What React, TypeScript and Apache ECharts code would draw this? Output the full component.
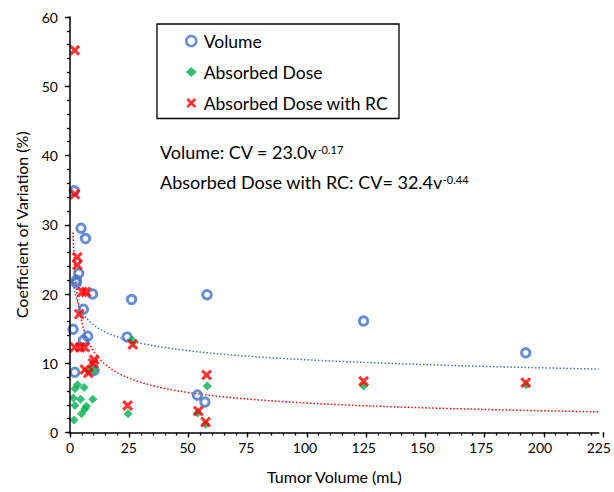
import React, { useEffect, useRef } from 'react';
import * as echarts from 'echarts';

// Tumor volume (mL) vs coefficient of variation (%)
const volumeData: [number, number][] = [
  [1.8, 34.9], [4.7, 29.5], [6.6, 28.0], [3.7, 23.0], [2.7, 22.0], [2.7, 21.6],
  [9.6, 20.0], [26.2, 19.2], [58.3, 19.9], [5.7, 17.8], [1.3, 14.9], [7.5, 13.9],
  [5.7, 13.3], [24.3, 13.8], [124.9, 16.1], [193.9, 11.5], [2.0, 8.7], [10.3, 9.0],
  [54.2, 5.4], [57.4, 4.4],
];

const doseData: [number, number][] = [
  [3.2, 6.9], [2.1, 6.3], [6.0, 6.5], [1.4, 5.0], [4.5, 4.8], [9.7, 4.8],
  [2.1, 3.9], [7.0, 3.8], [6.3, 3.4], [4.9, 2.7], [1.7, 1.8], [10.3, 9.0],
  [8.5, 9.0], [26.3, 13.4], [24.7, 2.7], [54.3, 2.8], [57.7, 1.2], [58.4, 6.7],
  [124.9, 6.7], [194.1, 6.9],
];

const doseRcData: [number, number][] = [
  [2.0, 55.2], [2.1, 34.4], [3.1, 25.3], [3.1, 24.2], [5.2, 20.3], [6.8, 20.3],
  [3.9, 17.1], [2.0, 12.3], [4.3, 12.3], [6.3, 12.3], [10.3, 10.5], [9.8, 10.0],
  [6.3, 9.1], [7.8, 8.6], [24.5, 3.9], [26.7, 12.7], [58.1, 8.3], [54.6, 3.1],
  [57.7, 1.5], [124.9, 7.4], [193.9, 7.2],
];

// Power-law fits shown on the chart: CV = a * v^b
const volumeFit = [23.0, -0.17];
const doseRcFit = [32.4, -0.44];
const fitRange = [1.3, 225];

const seriesNames = ['Volume', 'Absorbed Dose', 'Absorbed Dose with RC'];
// [min, max, major interval, minor interval]
const xTickValues = [0, 225, 25, 5];
const yTickValues = [0, 60, 10, 2];

const BLUE = '#4472C4';
const GREEN = '#00B050';
const RED = '#FF0000';
const FONT = 'Lato, "Open Sans", sans-serif';
const X_PATH =
  'path://M0,2L2,0L5,3L8,0L10,2L7,5L10,8L8,10L5,7L2,10L0,8L3,5Z';

function fitCurve(fit: number[]): [number, number][] {
  const pts: [number, number][] = [];
  const n = 200;
  const lo = Math.log(fitRange[0]);
  const hi = Math.log(fitRange[1]);
  for (let i = 0; i <= n; i++) {
    const v = Math.exp(lo + ((hi - lo) * i) / n);
    pts.push([v, fit[0] * Math.pow(v, fit[1])]);
  }
  return pts;
}

export default function App() {
  const ref = useRef<HTMLDivElement>(null);
  useEffect(() => {
    if (!ref.current) return;
    const chart = echarts.init(ref.current, null, { renderer: 'svg' });
    const L = 70, R = 11, T = 17, B = 59.5;
    const plotBottom = 492 - B;
    const tickLine = { show: true, lineStyle: { color: '#000', width: 1.3, type: 'solid' as const } };
    const hidden = { type: 'value' as const, show: false, min: 0, max: 1 };
    // tick strips: thin grids whose split lines act as outward axis ticks
    const tickAxis = (gridIndex: number, range: number[], step: number) => ({
      type: 'value' as const,
      gridIndex,
      min: range[0],
      max: range[1],
      interval: step,
      axisLine: { show: false },
      axisTick: { show: false },
      axisLabel: { show: false },
      splitLine: tickLine,
      silent: true,
    });
    const annotRich = {
      a: { fontFamily: FONT, fontSize: 18, lineHeight: 20, fill: '#000' },
      s: { fontFamily: FONT, fontSize: 11, lineHeight: 12, padding: [0, 0, 6, 0], fill: '#000' },
    };
    chart.setOption({
      animation: false,
      backgroundColor: '#fff',
      grid: [
        { left: L, right: R, top: T, bottom: B },
        { left: L, right: R, top: plotBottom, height: 3 },
        { left: L, right: R, top: plotBottom, height: 5 },
        { left: L - 3, width: 3, top: T, bottom: B },
        { left: L - 5, width: 5, top: T, bottom: B },
      ],
      xAxis: [
        {
          type: 'value',
          gridIndex: 0,
          position: 'bottom',
          min: xTickValues[0],
          max: xTickValues[1],
          interval: xTickValues[2],
          axisLine: { show: true, onZero: false, lineStyle: { color: '#000', width: 1.5 } },
          axisTick: { show: false },
          splitLine: { show: false },
          axisLabel: { fontFamily: FONT, fontSize: 14, color: '#000', margin: 8 },
          name: 'Tumor Volume (mL)',
          nameLocation: 'middle',
          nameGap: 36,
          nameTextStyle: { fontFamily: FONT, fontSize: 16, color: '#000' },
          z: 5,
        },
        tickAxis(1, xTickValues, xTickValues[3]),
        tickAxis(2, xTickValues, xTickValues[2]),
        { ...hidden, gridIndex: 3 },
        { ...hidden, gridIndex: 4 },
      ],
      yAxis: [
        {
          type: 'value',
          gridIndex: 0,
          position: 'left',
          min: yTickValues[0],
          max: yTickValues[1],
          interval: yTickValues[2],
          axisLine: { show: true, onZero: false, lineStyle: { color: '#000', width: 1.5 } },
          axisTick: { show: false },
          splitLine: { show: false },
          axisLabel: { fontFamily: FONT, fontSize: 14, color: '#000', margin: 12 },
          name: 'Coefficient of Variation (%)',
          nameLocation: 'middle',
          nameGap: 41,
          nameTextStyle: { fontFamily: FONT, fontSize: 16, color: '#000' },
          z: 5,
        },
        { ...hidden, gridIndex: 1 },
        { ...hidden, gridIndex: 2 },
        tickAxis(3, yTickValues, yTickValues[3]),
        tickAxis(4, yTickValues, yTickValues[2]),
      ],
      legend: {
        orient: 'vertical',
        left: 185,
        top: 31,
        padding: 0,
        itemWidth: 11,
        itemHeight: 10,
        itemGap: 11,
        textStyle: { fontFamily: FONT, fontSize: 17.5, color: '#000', lineHeight: 20, padding: [0, 0, 0, 2] },
        data: [
          { name: seriesNames[0], icon: 'circle', itemStyle: { color: '#fff', borderColor: BLUE, borderWidth: 2.5 } },
          { name: seriesNames[1], icon: 'diamond', itemStyle: { color: GREEN, borderWidth: 0 } },
          { name: seriesNames[2], icon: X_PATH, itemStyle: { color: RED, borderWidth: 0 } },
        ],
      },
      graphic: [
        {
          type: 'rect',
          shape: { x: 157, y: 24, width: 242, height: 94.5 },
          style: { fill: 'none', stroke: '#000', lineWidth: 1.3 },
          z: 10,
        },
        {
          type: 'text',
          left: 160,
          top: 143,
          style: { text: '{a|Volume: CV = 23.0v}{s|-0.17}', rich: annotRich },
          z: 10,
        },
        {
          type: 'text',
          left: 160,
          top: 173,
          style: { text: '{a|Absorbed Dose with RC: CV= 32.4v}{s|-0.44}', rich: annotRich },
          z: 10,
        },
      ],
      series: [
        {
          name: 'Volume fit',
          type: 'line',
          data: fitCurve(volumeFit),
          showSymbol: false,
          symbol: 'none',
          lineStyle: { color: BLUE, width: 1.5, type: [1.5, 2] },
          silent: true,
          z: 1,
        },
        {
          name: 'RC fit',
          type: 'line',
          data: fitCurve(doseRcFit),
          showSymbol: false,
          symbol: 'none',
          lineStyle: { color: RED, width: 1.5, type: [1.5, 2] },
          silent: true,
          z: 1,
        },
        {
          name: seriesNames[0],
          type: 'scatter',
          data: volumeData,
          symbol: 'circle',
          symbolSize: 8.5,
          itemStyle: { color: 'rgba(255,255,255,0)', borderColor: BLUE, borderWidth: 3 },
          z: 2,
        },
        {
          name: seriesNames[1],
          type: 'scatter',
          data: doseData,
          symbol: 'diamond',
          symbolSize: 9,
          itemStyle: { color: GREEN },
          z: 3,
        },
        {
          name: seriesNames[2],
          type: 'scatter',
          data: doseRcData,
          symbol: X_PATH,
          symbolSize: 11,
          itemStyle: { color: RED },
          z: 4,
        },
      ],
    });
    return () => chart.dispose();
  }, []);
  return <div ref={ref} style={{ width: 614, height: 492, position: 'absolute', left: 0, top: 0 }} />;
}
